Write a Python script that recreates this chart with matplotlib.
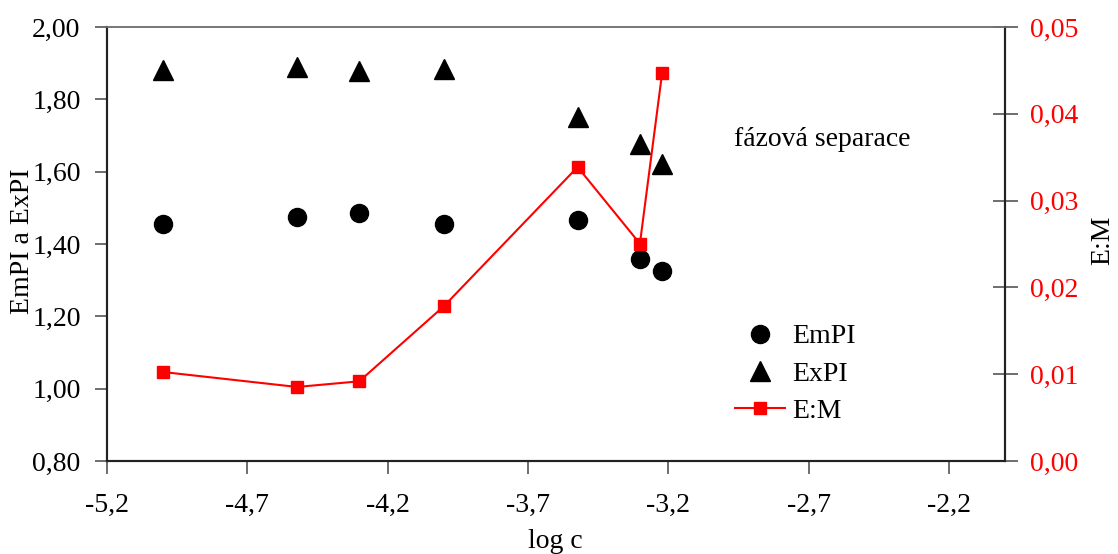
import matplotlib
matplotlib.use("Agg")
import matplotlib.pyplot as plt
from matplotlib.lines import Line2D
from matplotlib.ticker import FuncFormatter, FixedLocator

plt.rcParams['font.family'] = ['Liberation Serif', 'DejaVu Serif']

# Data
log_c = [-5.0, -4.523, -4.301, -4.0, -3.523, -3.301, -3.222]
empi = [1.456, 1.476, 1.486, 1.456, 1.466, 1.359, 1.325]
expi = [1.881, 1.889, 1.879, 1.884, 1.752, 1.677, 1.621]
em_ratio = [0.01025, 0.00853, 0.00918, 0.01782, 0.03387, 0.02504, 0.04466]

x_ticks = [-5.2, -4.7, -4.2, -3.7, -3.2, -2.7, -2.2]
y_left_ticks = [0.80, 1.00, 1.20, 1.40, 1.60, 1.80, 2.00]
y_right_ticks = [0.00, 0.01, 0.02, 0.03, 0.04, 0.05]

W, H = 1118, 554
fig = plt.figure(figsize=(W / 100, H / 100), dpi=100)
L, R, T, B = 107, 1005, 27, 461
ax = fig.add_axes([L / W, (H - B) / H, (R - L) / W, (B - T) / H])
ax2 = ax.twinx()

FS = 20
spine_c = '#222222'
tick_c = '#555555'

ax.plot(log_c, empi, linestyle='none', marker='o', markersize=13, color='black', zorder=3)
ax.plot(log_c, expi, linestyle='none', marker='^', markersize=14.5, color='black', zorder=3)
ax2.plot(log_c, em_ratio, color='red', linewidth=1.5, marker='s', markersize=8,
         markerfacecolor='red', markeredgecolor='red', zorder=3)

ax.set_xlim(-5.2, -2.0)
ax.set_ylim(0.80, 2.00)
ax2.set_ylim(0.0, 0.05)

ax.xaxis.set_major_locator(FixedLocator(x_ticks))
ax.yaxis.set_major_locator(FixedLocator(y_left_ticks))
ax2.yaxis.set_major_locator(FixedLocator(y_right_ticks))
ax.xaxis.set_major_formatter(FuncFormatter(lambda v, p: f"{v:.1f}".replace('.', ',')))
ax.yaxis.set_major_formatter(FuncFormatter(lambda v, p: f"{v:.2f}".replace('.', ',')))
ax2.yaxis.set_major_formatter(FuncFormatter(lambda v, p: f"{v:.2f}".replace('.', ',')))

ax.tick_params(axis='x', direction='out', length=9, width=1.2, color=tick_c,
               labelsize=FS, pad=14)
ax.tick_params(axis='y', direction='out', length=9, width=1.2, color=tick_c,
               labelsize=FS, pad=10)
ax2.tick_params(axis='y', direction='inout', length=18, width=1.2, color=tick_c,
                labelsize=FS, labelcolor='red', pad=9)

for a in (ax, ax2):
    for s in a.spines.values():
        s.set_linewidth(1.5)
        s.set_color(spine_c)
    a.spines['top'].set_color('#777777')
    a.spines['top'].set_linewidth(1.2)

fig.text(23 / W, 1 - 241 / H, 'EmPI a ExPI', rotation=90, ha='center', va='center', fontsize=FS)
fig.text(1103 / W, 1 - 240 / H, 'E:M', rotation=90, ha='center', va='center', fontsize=FS)
fig.text(555 / W, 1 - 541 / H, 'log c', ha='center', va='center', fontsize=FS)
fig.text(734 / W, 1 - 140 / H, 'fázová separace', ha='left', va='center', fontsize=FS)

handles = [
    Line2D([], [], linestyle='none', marker='o', markersize=13, color='black'),
    Line2D([], [], linestyle='none', marker='^', markersize=14.5, color='black'),
    Line2D([], [], color='red', linewidth=1.5, marker='s', markersize=8),
]
fig.legend(handles, ['EmPI', 'ExPI', 'E:M'], loc='center left',
           bbox_to_anchor=(735 / W, 1 - 374 / H), frameon=False, fontsize=FS,
           borderpad=0, borderaxespad=0, handlelength=1.8, handletextpad=0.25,
           labelspacing=0.43)

fig.savefig('out.png', dpi=100)
